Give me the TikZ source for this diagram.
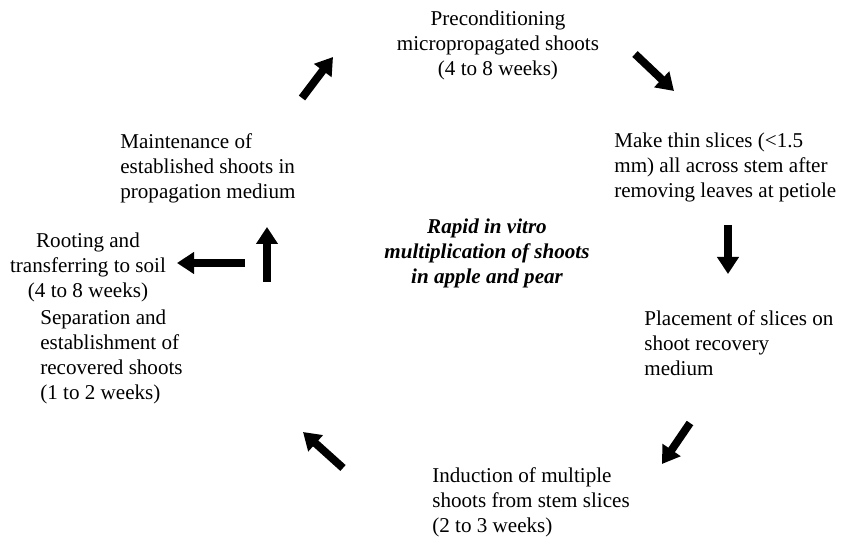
\documentclass[tikz,border=0pt]{standalone}
\usepackage{fontspec}
\setmainfont{Liberation Serif}
\usetikzlibrary{arrows.meta}

\tikzset{
  stage/.style={inner sep=0pt, font=\fontsize{12}{14.2}\selectfont},
  fat/.style={line width=4.5pt, -{Triangle[width=0.42cm, length=0.34cm]}}
}

\begin{document}
\begin{tikzpicture}

	\useasboundingbox (0,0) rectangle (16.96,-10.8);

	% stages of the cycle
	\node[stage, anchor=north, align=center] (precond) at (9.96,-0.22)
		{Preconditioning\\micropropagated shoots\\(4 to 8 weeks)};
	\node[stage, anchor=north west, align=left] (slices) at (12.28,-2.66)
		{Make thin slices (<1.5\\mm) all across stem after\\removing leaves at petiole};
	\node[stage, anchor=north west, align=left] (placement) at (12.88,-6.2)
		{Placement of slices on\\shoot recovery\\medium};
	\node[stage, anchor=north west, align=left] (induction) at (8.64,-9.34)
		{Induction of multiple\\shoots from stem slices\\(2 to 3 weeks)};
	\node[stage, anchor=north west, align=left] (separation) at (0.8,-6.2)
		{Separation and\\establishment of\\recovered shoots\\(1 to 2 weeks)};
	\node[stage, anchor=north, align=center] (rooting) at (1.76,-4.66)
		{Rooting and\\transferring to soil\\(4 to 8 weeks)};
	\node[stage, anchor=north west, align=left] (maintenance) at (2.4,-2.66)
		{Maintenance of\\established shoots in\\propagation medium};
	\node[stage, anchor=north, align=center, font=\fontsize{12}{14.2}\selectfont\bfseries\itshape] (title) at (9.74,-4.38)
		{Rapid in vitro\\multiplication of shoots\\in apple and pear};

	% arrow ends
	\coordinate (a1s) at (6.04,-1.96);  \coordinate (a1e) at (6.66,-1.14);
	\coordinate (a2s) at (12.7,-1.08);  \coordinate (a2e) at (13.48,-1.82);
	\coordinate (a3s) at (14.56,-4.5);  \coordinate (a3e) at (14.56,-5.48);
	\coordinate (a4s) at (13.8,-8.46);  \coordinate (a4e) at (13.24,-9.28);
	\coordinate (a5s) at (6.86,-9.36);  \coordinate (a5e) at (6.06,-8.64);
	\coordinate (a6s) at (4.9,-5.26);   \coordinate (a6e) at (3.54,-5.26);
	\coordinate (a7s) at (5.34,-5.64);  \coordinate (a7e) at (5.34,-4.54);

	\draw[fat] (a1s) -- (a1e);
	\draw[fat] (a2s) -- (a2e);
	\draw[fat] (a3s) -- (a3e);
	\draw[fat] (a4s) -- (a4e);
	\draw[fat] (a5s) -- (a5e);
	\draw[fat] (a6s) -- (a6e);
	\draw[fat] (a7s) -- (a7e);

\end{tikzpicture}
\end{document}
